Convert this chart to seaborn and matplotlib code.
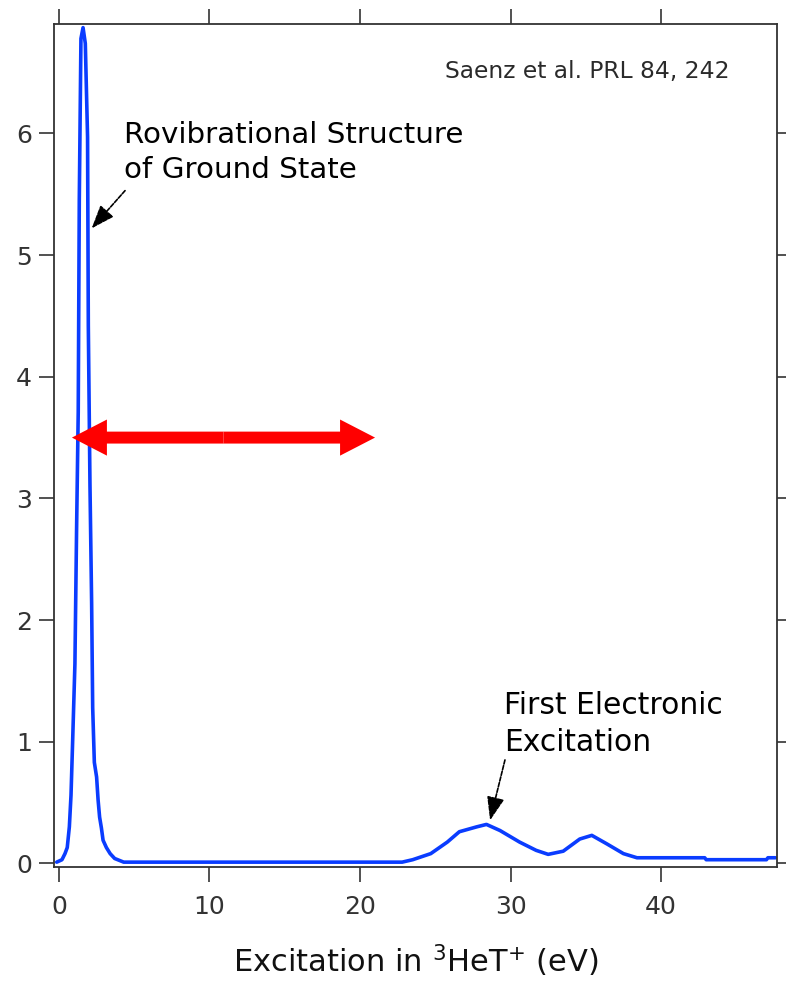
import matplotlib
matplotlib.use("Agg")
import matplotlib.pyplot as plt
from matplotlib.patches import FancyArrowPatch
import seaborn as sns
import pandas as pd

# Excitation energy (eV) and probability density
energy = [-0.15, 0.2, 0.4, 0.55, 0.69, 0.8, 0.91, 1.06, 1.17, 1.28, 1.35, 1.46,
          1.6, 1.75, 1.9, 1.95, 2.06, 2.17, 2.24, 2.35, 2.5, 2.6, 2.7, 2.82,
          2.93, 3.15, 3.4, 3.7, 4.3,
          22.8, 23.5, 24.7, 25.8, 26.6, 27.75, 28.4, 29.3, 30.6, 31.7, 32.5,
          33.5, 34.6, 35.4, 36.4, 37.5, 38.4, 42.9, 43.0, 47.0, 47.1, 47.6]
density = [0.01, 0.03, 0.08, 0.13, 0.30, 0.56, 1.01, 1.64, 2.74, 3.71, 5.45, 6.78,
           6.87, 6.74, 5.97, 4.42, 3.11, 2.14, 1.28, 0.83, 0.71, 0.52, 0.38, 0.29,
           0.19, 0.13, 0.08, 0.04, 0.01,
           0.01, 0.03, 0.08, 0.175, 0.26, 0.30, 0.32, 0.27, 0.175, 0.107, 0.074,
           0.10, 0.20, 0.23, 0.16, 0.08, 0.046, 0.046, 0.03, 0.03, 0.046, 0.046]

xticks = [0, 10, 20, 30, 40]
yticks = [0, 1, 2, 3, 4, 5, 6]

df = pd.DataFrame({"energy": energy, "density": density})

sns.set_theme(style="white")
plt.rcParams["font.family"] = ["DejaVu Sans"]

fig = plt.figure(figsize=(7.86, 9.83), dpi=100)
ax = fig.add_axes([0.0687, 0.118, 0.9198, 0.8576])

sns.lineplot(data=df, x="energy", y="density", sort=False, estimator=None,
             color="#0a3cff", lw=2.6, ax=ax)

ax.set_xlim(-0.33, 47.7)
ax.set_ylim(-0.03, 6.9)
ax.set_xticks(xticks)
ax.set_yticks(yticks)
ax.set_xlabel(r"Excitation in $^{3}$HeT$^{+}$ (eV)", fontsize=22, color="#111111", labelpad=17)
ax.set_ylabel("")

for s in ax.spines.values():
    s.set_color("#333333")
    s.set_linewidth(1.3)
ax.tick_params(axis="both", which="both", direction="out", length=11, width=1.2,
               color="#333333", labelsize=18, labelcolor="#333333",
               top=True, right=True, bottom=True, left=True)
ax.tick_params(axis="x", pad=9)
ax.tick_params(axis="y", pad=5)

ax.text(0.541, 0.936, "Saenz et al. PRL 84, 242", transform=ax.transAxes,
        fontsize=16.8, color="#2a2a2a", ha="left", va="baseline")

ax.text(4.32, 6.10, "Rovibrational Structure\nof Ground State", fontsize=21.2,
        ha="left", va="top", color="black", linespacing=1.3)
ax.annotate("", xy=(2.17, 5.22), xytext=(4.39, 5.53),
            arrowprops=dict(arrowstyle="-|>,head_length=1.2,head_width=0.45",
                            color="black", lw=1.2, linestyle=(0, (2.5, 1)),
                            shrinkA=0, shrinkB=0))

ax.text(29.57, 1.415, "First Electronic\nExcitation", fontsize=21.4,
        ha="left", va="top", color="black", linespacing=1.35)
ax.annotate("", xy=(28.64, 0.354), xytext=(29.63, 0.85),
            arrowprops=dict(arrowstyle="-|>,head_length=1.2,head_width=0.45",
                            color="black", lw=1.2, linestyle=(0, (2.5, 1)),
                            shrinkA=0, shrinkB=0))

# red double-headed arrow
mid = (0.86 + 21.0) / 2
for end in (0.86, 21.0):
    ax.add_patch(FancyArrowPatch((mid, 3.5), (end, 3.5),
                                 arrowstyle="simple,head_length=2.52,head_width=2.6,tail_width=0.86",
                                 mutation_scale=10, color="#ff0000", lw=0,
                                 shrinkA=0, shrinkB=0, zorder=5))

fig.savefig("out.png", dpi=100)
